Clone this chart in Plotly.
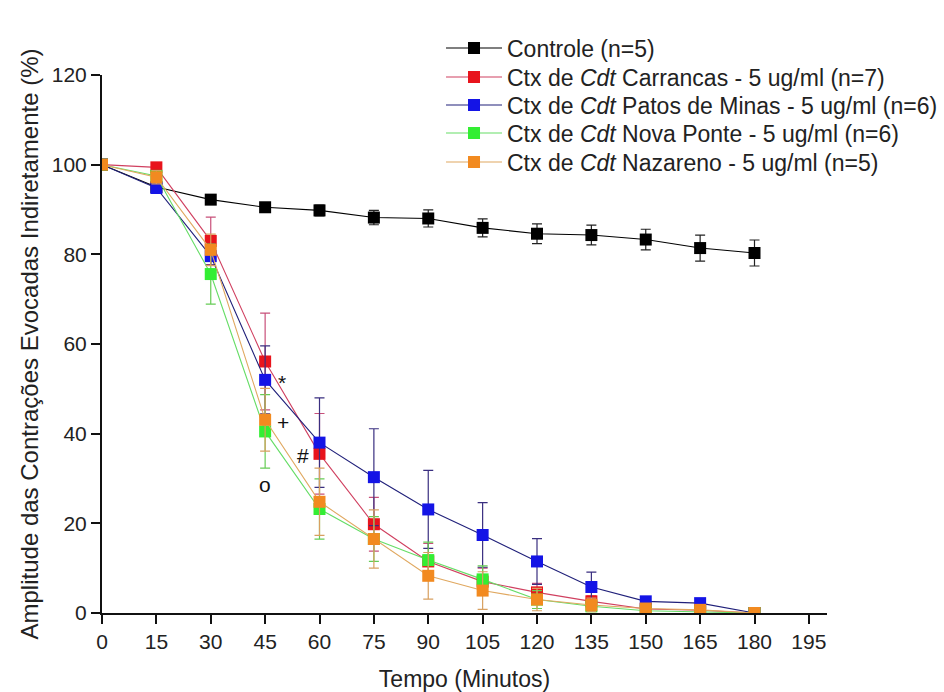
import plotly.graph_objects as go

# Tempo (min) e amplitude (%) das contrações evocadas indiretamente
tempo = [0, 15, 30, 45, 60, 75, 90, 105, 120, 135, 150, 165, 180]

controle = [100, 95.0, 92.2, 90.5, 89.8, 88.2, 88.0, 85.9, 84.6, 84.3, 83.3, 81.4, 80.3]
controle_err = [0, 0.8, 0.9, 1.0, 1.2, 1.6, 1.9, 2.0, 2.2, 2.2, 2.3, 2.9, 2.9]

carrancas = [100, 99.4, 83.0, 56.1, 35.5, 19.8, 11.5, 7.0, 4.6, 2.6, 0.9, 0.6, 0]
carrancas_err = [0, 1.0, 5.3, 10.8, 9.0, 6.0, 4.0, 3.0, 2.0, 1.2, 0.6, 0.4, 0]

patos = [100, 94.8, 79.6, 52.0, 38.0, 30.3, 23.1, 17.4, 11.5, 5.8, 2.6, 2.2, 0]
patos_err = [0, 1.2, 2.0, 7.6, 10.0, 10.8, 8.7, 7.2, 5.1, 3.3, 0.8, 0.5, 0]

nova_ponte = [100, 97.5, 75.6, 40.5, 23.2, 16.5, 11.8, 7.5, 3.0, 1.5, 0.5, 0.3, 0]
nova_ponte_err = [0, 1.0, 6.7, 8.2, 6.7, 5.0, 4.0, 3.0, 2.0, 1.0, 0.5, 0.3, 0]

nazareno = [100, 97.2, 81.0, 43.1, 24.8, 16.5, 8.3, 5.0, 3.0, 1.8, 1.0, 0.7, 0]
nazareno_err = [0, 1.5, 3.5, 7.0, 7.5, 6.5, 5.2, 4.2, 2.5, 1.5, 0.6, 0.4, 0]

x_ticks = [0, 15, 30, 45, 60, 75, 90, 105, 120, 135, 150, 165, 180, 195]
y_ticks = [0, 20, 40, 60, 80, 100, 120]

FONT = "Liberation Sans, Arial, sans-serif"

series = [
    ("Controle (n=5)", controle, controle_err, "#000000", "#000000", "#222222"),
    ("Ctx de <i>Cdt</i> Carrancas - 5 ug/ml (n=7)", carrancas, carrancas_err,
     "#e8141c", "#d04060", "#c8507a"),
    ("Ctx de <i>Cdt</i> Patos de Minas - 5 ug/ml (n=6)", patos, patos_err,
     "#1414e6", "#20207a", "#3a2f80"),
    ("Ctx de <i>Cdt</i> Nova Ponte - 5 ug/ml (n=6)", nova_ponte, nova_ponte_err,
     "#33ee33", "#66dd66", "#66cc55"),
    ("Ctx de <i>Cdt</i> Nazareno - 5 ug/ml (n=5)", nazareno, nazareno_err,
     "#f28a20", "#e0a860", "#d8a060"),
]

# one legend box per series so the rows can be spaced tightly
legend_ids = ["legend", "legend2", "legend3", "legend4", "legend5"]
legend_rows = [1.050, 0.9963, 0.9442, 0.8922, 0.8383]

fig = go.Figure()
for (name, vals, err, mcol, lcol, ecol), lid in zip(series, legend_ids):
    fig.add_trace(go.Scatter(
        x=tempo, y=vals, name=name, mode="lines+markers", legend=lid,
        line=dict(color=lcol, width=1.1),
        marker=dict(symbol="square", size=12, color=mcol,
                    line=dict(width=0)),
        error_y=dict(type="data", array=err, visible=True,
                     color=ecol, thickness=1.2, width=5),
    ))

# Marcadores de significância
ann_font = dict(family=FONT, size=21, color="#111111")
annotations = [
    dict(x=45, y=patos[3], text="*", xshift=17, yshift=-3),
    dict(x=45, y=nazareno[3], text="+", xshift=18, yshift=-3),
    dict(x=60, y=carrancas[4], text="#", xshift=-17, yshift=-2),
    dict(x=45, y=nova_ponte[3] - nova_ponte_err[3], text="o", yshift=-16),
]
for a in annotations:
    fig.add_annotation(xref="x", yref="y", showarrow=False, font=ann_font, **a)

axis_common = dict(
    showline=True, linewidth=2, linecolor="#111111", mirror=False,
    ticks="outside", ticklen=9, tickwidth=2, tickcolor="#111111",
    showgrid=False, zeroline=False, automargin=False,
    tickfont=dict(family=FONT, size=21, color="#222222"),
)

fig.update_xaxes(range=[0, 200], tickvals=x_ticks, ticktext=[str(v) for v in x_ticks],
                 title=dict(text="Tempo (Minutos)", standoff=20,
                            font=dict(family=FONT, size=23, color="#222222")),
                 **axis_common)
fig.update_yaxes(range=[0, 120], tickvals=y_ticks,
                 title=dict(text="Amplitude das Contrações Evocadas Indiretamente (%)",
                            standoff=6,
                            font=dict(family=FONT, size=24, color="#222222")),
                 **axis_common)

legend_style = dict(xanchor="left", yanchor="middle", bgcolor="rgba(0,0,0,0)",
                    itemwidth=56, borderwidth=0,
                    font=dict(family=FONT, size=23, color="#222222"))

fig.update_layout(
    width=944, height=692,
    margin=dict(l=102, r=117, t=75, b=79, autoexpand=False),
    plot_bgcolor="white", paper_bgcolor="white",
    font=dict(family=FONT, color="#222222"),
    showlegend=True,
)
for lid, ly in zip(legend_ids, legend_rows):
    fig.update_layout({lid: dict(x=0.4676, y=ly, **legend_style)})

fig.write_html("out.html")
